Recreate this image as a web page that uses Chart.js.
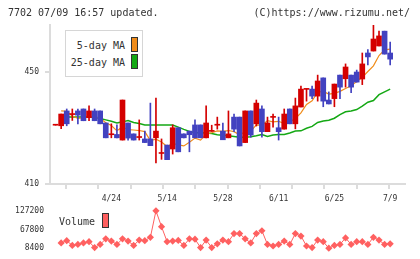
<!DOCTYPE html>
<html>
<head>
<meta charset="utf-8">
<script src="https://cdn.jsdelivr.net/npm/chart.js@4.4.1/dist/chart.umd.min.js"></script>
<style>
  body { margin: 0; background: #fff; width: 420px; height: 259px; overflow: hidden; position: relative;
         font-family: "DejaVu Sans Mono", monospace; color: #333; }
  canvas { position: absolute; left: 0; }
  #main { top: 0; }
  #vol { top: 200px; }
  .txt { position: absolute; font-size: 10px; line-height: 12px; white-space: nowrap; }
  .sw { position: absolute; width: 7px; height: 15px; box-sizing: border-box; border: 1px solid #333; }
  #legbox { position: absolute; left: 65px; top: 30px; width: 78px; height: 47px; box-sizing: border-box;
            border: 1px solid #d6d6d6; background: #fff; }
</style>
</head>
<body>
<canvas id="main" width="420" height="210"></canvas>
<canvas id="vol" width="420" height="59"></canvas>

<div class="txt" style="left:8px; top:7px;">7702 07/09 16:57 updated.</div>
<div class="txt" style="right:10px; top:7px;">(C)https://www.rizumu.net/</div>

<div id="legbox"></div>
<div class="txt" style="right:295px; top:40px;">5-day MA</div>
<div class="sw" style="left:131px; top:37px; background:#f08c1a;"></div>
<div class="txt" style="right:295px; top:57px;">25-day MA</div>
<div class="sw" style="left:131px; top:54px; background:#14a814;"></div>

<div class="txt" style="left:59px; top:216px;">Volume</div>
<div class="sw" style="left:102px; top:213px; background:#ff6060;"></div>

<script>
// x-axis date labels and the candle index they sit under
var dateLabels = ["4/24", "5/14", "5/28", "6/11", "6/25", "7/9"];
var dateIdx = [10, 20, 30, 40, 50, 60];

// daily prices, oldest first
var opens = [431.0, 430.8, 436.1, 434.8, 436.1, 436.8, 433.7, 436.1, 436.1, 431.8,
  427.6, 427.7, 425.7, 431.8, 427.9, 426.6, 426.1, 426.1, 426.5, 420.9,
  423.9, 422.5, 430.1, 427.9, 428.9, 431.1, 431.1, 426.5, 428.8, 431.0,
  428.9, 426.5, 433.9, 433.9, 424.8, 436.1, 431.5, 436.8, 428.7, 433.8,
  430.1, 429.6, 436.8, 431.5, 437.5, 443.8, 443.9, 441.4, 447.9, 440.0,
  440.5, 448.9, 447.6, 448.9, 450.0, 447.5, 456.8, 457.5, 459.3, 464.6, 456.8];
var highs = [431.1, 435.0, 436.8, 436.8, 436.8, 436.8, 437.9, 436.8, 436.1, 431.8,
  431.5, 431.1, 440.0, 431.8, 427.9, 432.9, 428.9, 438.9, 440.7, 426.1,
  423.9, 431.1, 430.1, 427.9, 428.9, 432.9, 431.1, 437.9, 431.0, 433.9,
  431.8, 436.1, 435.0, 433.9, 436.1, 436.1, 440.0, 437.9, 433.9, 435.0,
  433.9, 436.8, 436.8, 440.7, 445.0, 443.9, 445.0, 448.9, 447.9, 442.9,
  445.7, 448.9, 452.9, 448.9, 450.7, 456.8, 458.0, 466.8, 464.6, 464.6, 460.7];
var lows = [431.0, 429.8, 430.8, 432.7, 431.5, 432.6, 432.6, 432.6, 431.5, 426.5,
  426.5, 426.5, 425.7, 425.7, 425.7, 425.7, 424.8, 423.7, 417.5, 418.8,
  418.7, 420.7, 421.5, 426.5, 421.5, 426.5, 426.5, 426.5, 428.8, 429.6,
  425.8, 426.5, 428.7, 423.6, 424.8, 426.7, 430.7, 426.7, 428.7, 430.3,
  425.7, 429.6, 431.5, 429.7, 437.5, 439.6, 440.5, 439.6, 437.6, 438.6,
  437.6, 440.5, 444.6, 442.6, 446.4, 445.5, 452.5, 457.5, 459.3, 456.4, 452.5];
var closes = [431.1, 435.0, 431.5, 434.9, 434.6, 432.6, 436.1, 432.6, 431.5, 426.5,
  427.7, 426.5, 440.0, 426.4, 425.7, 426.7, 424.8, 423.7, 428.9, 421.0,
  418.7, 430.1, 421.5, 426.5, 427.6, 426.5, 426.5, 431.8, 428.9, 431.1,
  425.8, 427.9, 429.6, 423.6, 436.1, 427.5, 438.9, 428.7, 431.8, 433.9,
  428.7, 435.0, 431.5, 437.9, 443.9, 443.9, 441.4, 446.8, 439.6, 438.6,
  445.7, 444.6, 451.8, 444.6, 446.4, 452.9, 455.4, 461.8, 462.9, 456.4, 454.6];

// moving averages as drawn on the chart
var ma5 = [null, 436.1, 436.0, 434.3, 433.4, 433.7, 433.9, 434.2, 433.5, 431.9,
  430.9, 429.0, 430.4, 429.4, 429.3, 429.1, 428.7, 425.5, 426.0, 425.0,
  423.4, 424.5, 424.0, 423.6, 424.9, 426.4, 425.7, 427.8, 428.3, 429.0,
  428.8, 429.1, 428.7, 427.6, 428.6, 428.9, 431.1, 431.0, 432.6, 432.2,
  432.4, 431.6, 432.2, 433.4, 435.4, 438.4, 439.7, 442.8, 443.1, 442.1,
  442.4, 443.1, 444.1, 445.1, 446.6, 448.1, 450.2, 452.2, 455.9, 457.9, 458.2];
var ma25 = [null, 433.9, 433.9, 433.9, 433.9, 433.9, 433.9, 433.8, 433.4, 432.9,
  432.4, 431.8, 432.2, 432.7, 432.0, 431.6, 431.1, 431.1, 431.1, 431.1,
  431.1, 431.1, 430.3, 429.5, 428.8, 428.3, 428.3, 428.2, 428.0, 427.6,
  427.4, 427.2, 427.0, 426.7, 426.7, 426.9, 427.2, 427.7, 427.0, 427.5,
  427.7, 427.7, 428.2, 428.9, 429.0, 429.9, 430.6, 432.0, 432.5, 432.8,
  433.5, 434.8, 435.8, 436.1, 436.6, 437.8, 439.2, 439.8, 441.9, 442.9, 443.9];

// daily volume
var volumes = [null, 25230, 32160, 17310, 20280, 25230, 29190, 10380, 20280, 38100,
  31170, 20280, 38100, 31170, 17310, 34140, 32160, 43050, 127200, 76710,
  29190, 31170, 33150, 17310, 38100, 37110, 10380, 34140, 10380, 22260,
  34140, 29190, 54930, 54930, 38100, 25230, 54930, 63840, 20280, 15330,
  20280, 31170, 20280, 54930, 47010, 15330, 10380, 34140, 29190, 8400,
  17310, 20280, 41070, 20280, 29190, 29190, 20280, 43050, 34140, 20280, 22260];
var volTicks = [8400, 67800, 127200];

var UP = "#d40000", DOWN = "#4242c0", AXIS = "#dcdcdc", TEXT = "#333";
var XMIN = -1, XMAX = 62.66;
var font8 = { family: "'DejaVu Sans Mono', monospace", size: 8 };

var idx = opens.map(function (_, i) { return i; });
var colors = idx.map(function (i) { return closes[i] >= opens[i] ? UP : DOWN; });
var gridTicks = [];
for (var g = 0; g <= 11; g++) gridTicks.push({ value: XMIN + g * (XMAX - XMIN) / 11 });

new Chart(document.getElementById("main"), {
  type: "bar",
  data: {
    datasets: [
      {
        label: "body",
        data: idx.map(function (i) { return { x: i, y: [opens[i], closes[i]] }; }),
        backgroundColor: colors,
        barThickness: 5,
        minBarLength: 1,
        grouped: false,
        order: 1,
        xAxisID: "x",
        yAxisID: "y"
      },
      {
        label: "wick",
        data: idx.map(function (i) { return { x: i, y: [lows[i], highs[i]] }; }),
        backgroundColor: colors,
        barThickness: 1,
        grouped: false,
        order: 2,
        xAxisID: "x",
        yAxisID: "y"
      },
      {
        type: "line",
        label: "5-day MA",
        data: idx.map(function (i) { return { x: i, y: ma5[i] }; }),
        borderColor: "#f08c1a",
        borderWidth: 1.2,
        pointRadius: 0,
        order: 3,
        xAxisID: "x",
        yAxisID: "y"
      },
      {
        type: "line",
        label: "25-day MA",
        data: idx.map(function (i) { return { x: i, y: ma25[i] }; }),
        borderColor: "#14a814",
        borderWidth: 1.5,
        pointRadius: 0,
        order: 4,
        xAxisID: "x",
        yAxisID: "y"
      }
    ]
  },
  options: {
    responsive: false,
    animation: false,
    devicePixelRatio: 1,
    layout: { padding: { top: 25, right: 15, left: 0, bottom: 0 } },
    plugins: { legend: { display: false }, tooltip: { enabled: false } },
    scales: {
      x: {
        type: "linear", axis: "x", position: "bottom", weight: 1,
        min: XMIN, max: XMAX, offset: false,
        grid: { display: false, drawTicks: false },
        border: { display: false },
        ticks: {
          autoSkip: false, maxRotation: 0, padding: 4, color: TEXT, font: font8,
          callback: function (v) {
            var k = dateIdx.indexOf(v);
            return k < 0 ? "" : dateLabels[k];
          }
        },
        afterBuildTicks: function (s) { s.ticks = dateIdx.map(function (v) { return { value: v }; }); },
        afterFit: function (s) { s.height = 20; }
      },
      xt: {
        type: "linear", axis: "x", position: "bottom", weight: 0,
        min: XMIN, max: XMAX, offset: false,
        grid: { drawOnChartArea: false, tickLength: 5, color: AXIS, lineWidth: 2 },
        border: { color: AXIS, width: 2 },
        ticks: { display: false },
        afterBuildTicks: function (s) { s.ticks = gridTicks.slice(); },
        afterFit: function (s) { s.height = 6; }
      },
      y: {
        type: "linear", position: "left", min: 410, max: 466.8, beginAtZero: false,
        grid: { drawOnChartArea: false, tickLength: 5, color: AXIS, lineWidth: 2 },
        border: { color: AXIS, width: 2 },
        ticks: { padding: 6, color: TEXT, font: font8, callback: function (v) { return String(v); } },
        afterBuildTicks: function (s) { s.ticks = [{ value: 410 }, { value: 450 }]; },
        afterFit: function (s) { s.width = 50; }
      }
    }
  }
});

new Chart(document.getElementById("vol"), {
  type: "line",
  data: {
    datasets: [{
      label: "Volume",
      data: idx.filter(function (i) { return volumes[i] !== null; })
               .map(function (i) { return { x: i, y: volumes[i] }; }),
      borderColor: "#ff6060",
      backgroundColor: "#ff6060",
      borderWidth: 1,
      pointStyle: "rectRot",
      pointRadius: 3.6,
      pointBorderWidth: 0,
      clip: false
    }]
  },
  options: {
    responsive: false,
    animation: false,
    devicePixelRatio: 1,
    layout: { padding: { top: 9.3, right: 15, left: 0, bottom: 10 } },
    plugins: { legend: { display: false }, tooltip: { enabled: false } },
    scales: {
      x: { type: "linear", min: XMIN, max: XMAX, display: false },
      y: {
        min: 8400, max: 127200,
        grid: { display: false, drawTicks: false },
        border: { display: false },
        ticks: { padding: 6, color: TEXT, font: font8, callback: function (v) { return String(v); } },
        afterBuildTicks: function (s) { s.ticks = volTicks.map(function (v) { return { value: v }; }); },
        afterFit: function (s) { s.width = 50; }
      }
    }
  }
});
</script>
</body>
</html>
